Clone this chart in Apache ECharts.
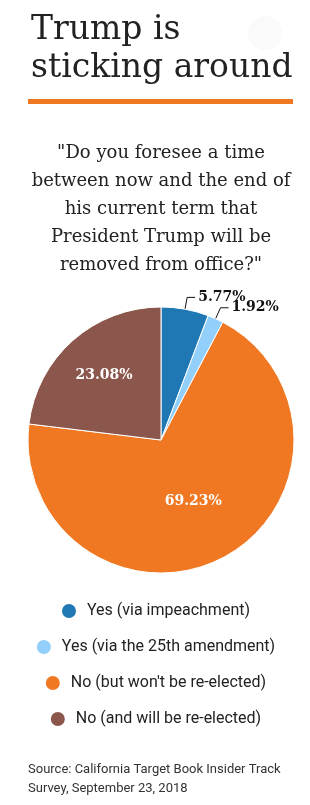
<!DOCTYPE html>
<html>
<head>
<meta charset="utf-8">
<script src="https://cdn.jsdelivr.net/npm/echarts@6/dist/echarts.min.js"></script>
<style>
  html, body { margin: 0; padding: 0; background: #fff; }
  #chart { width: 310px; height: 805px; }
</style>
</head>
<body>
<div id="chart"></div>
<script>
// survey answers, in the order they go round the pie (clockwise from 12 o'clock)
const answers = [
  "Yes (via impeachment)",
  "Yes (via the 25th amendment)",
  "No (but won't be re-elected)",
  "No (and will be re-elected)"
];
const shares = [5.77, 1.92, 69.23, 23.08];
const sliceColors = ["#1f77b4", "#92cffa", "#f07822", "#8b564b"];

const titleText = "Trump is\nsticking around";
const questionText = "\"Do you foresee a time\nbetween now and the end of\nhis current term that\nPresident Trump will be\nremoved from office?\"";
const sourceText = "Source: California Target Book Insider Track\nSurvey, September 23, 2018";

const biggest = Math.max(...shares);
const labelFont = {
  fontFamily: "DejaVu Serif",
  fontWeight: "bold",
  fontSize: 14
};

// main slices, biggest one carries its own label
const mainData = answers.map((name, i) => ({
  name: name,
  value: shares[i],
  itemStyle: { color: sliceColors[i] },
  label: { show: shares[i] === biggest }
}));

// see-through copy: labels for the other slices
const labelData = answers.map((name, i) => {
  const small = shares[i] < 10;
  return {
    name: name,
    value: shares[i],
    label: {
      show: shares[i] !== biggest,
      position: small ? "outside" : "inside",
      color: small ? "#111" : "#fff"
    },
    labelLine: { show: small }
  };
});

const myChart = echarts.init(document.getElementById("chart"));
myChart.setOption({
  animation: false,
  title: {
    text: titleText,
    left: 26,
    top: 6,
    textStyle: {
      fontFamily: "DejaVu Serif",
      fontWeight: "normal",
      fontSize: 33,
      lineHeight: 38,
      color: "#222"
    }
  },
  graphic: [
    {
      type: "circle",
      z: -1,
      shape: { cx: 265, cy: 33, r: 17 },
      style: { fill: "#fafafa" }
    },
    {
      type: "rect",
      shape: { x: 28, y: 99, width: 265, height: 5 },
      style: { fill: "#f07822" }
    },
    {
      type: "text",
      x: 161,
      y: 139,
      style: {
        text: questionText,
        font: "18px 'DejaVu Serif'",
        lineHeight: 28,
        align: "center",
        fill: "#222"
      }
    },
    {
      type: "text",
      x: 28,
      y: 760,
      style: {
        text: sourceText,
        font: "13px Roboto",
        lineHeight: 19,
        fill: "#333"
      }
    }
  ],
  legend: answers.map((name, i) => ({
    data: [name],
    left: "center",
    top: 597 + i * 36,
    icon: "circle",
    itemWidth: 16,
    itemHeight: 16,
    selectedMode: false,
    textStyle: {
      fontFamily: "Roboto",
      fontSize: 16,
      color: "#222",
      padding: [0, 0, 0, 5]
    }
  })),
  series: [
    {
      type: "pie",
      center: [161, 440],
      radius: 133,
      startAngle: 90,
      avoidLabelOverlap: false,
      silent: true,
      itemStyle: { borderColor: "#fff", borderWidth: 1 },
      label: Object.assign({ position: "inside", color: "#fff", formatter: "{c}%" }, labelFont),
      labelLine: { show: false },
      data: mainData
    },
    {
      type: "pie",
      center: [161, 440],
      radius: [46, 120],
      startAngle: 90,
      avoidLabelOverlap: false,
      silent: true,
      itemStyle: { color: "rgba(0,0,0,0)" },
      emphasis: { disabled: true },
      label: Object.assign({ formatter: "{c}%", distanceToLabelLine: 3 }, labelFont),
      labelLine: {
        length: 25,
        length2: 8,
        lineStyle: { color: "#111", width: 1 }
      },
      labelLayout: { hideOverlap: false },
      data: labelData
    }
  ]
});
</script>
</body>
</html>
